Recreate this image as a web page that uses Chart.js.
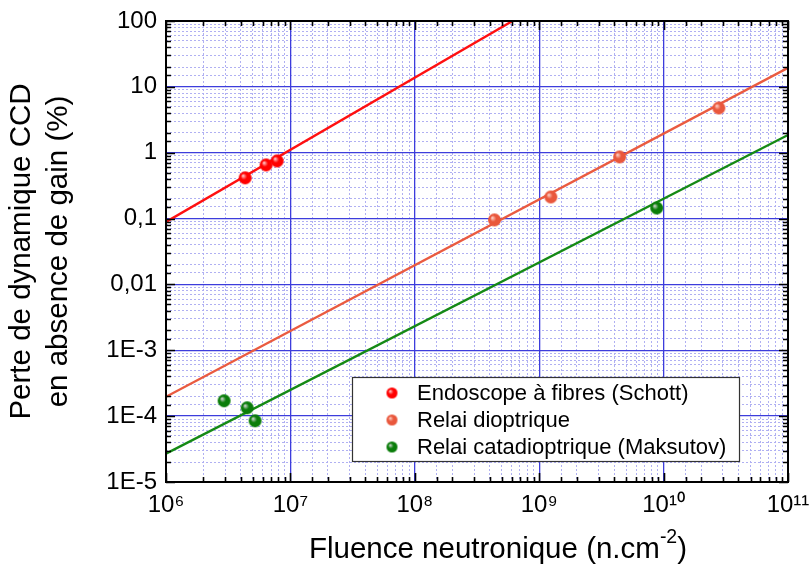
<!DOCTYPE html>
<html>
<head>
<meta charset="utf-8">
<script src="https://cdn.jsdelivr.net/npm/chart.js@4"></script>
<style>
  body { margin: 0; background: #fff; }
  #wrap { width: 810px; height: 567px; }
</style>
</head>
<body>
<div id="wrap"><canvas id="myChart" width="810" height="567"></canvas></div>
<script>
// measured points
const redX = [4.33e6, 6.38e6, 7.83e6]
const redY = [0.415, 0.653, 0.751]
const orangeX = [4.37e8, 1.24e9, 4.43e9, 2.78e10]
const orangeY = [0.0955, 0.213, 0.863, 4.78]
const greenX = [2.93e6, 4.49e6, 5.2e6, 8.8e9]
const greenY = [1.71e-4, 1.34e-4, 8.5e-5, 0.145]

// fitted lines (end points)
const redFitX = [1e6, 6.1e8]
const redFitY = [0.089, 100]
const orangeFitX = [1e6, 1e11]
const orangeFitY = [1.97e-4, 19.4]
const greenFitX = [1e6, 1e11]
const greenFitY = [2.69e-5, 1.86]

const seriesNames = ['Endoscope à fibres (Schott)', 'Relai dioptrique', 'Relai catadioptrique (Maksutov)']

const xTickValues = [1e6, 1e7, 1e8, 1e9, 1e10, 1e11]
const xTickLabels = ['10⁶', '10⁷', '10⁸', '10⁹', '10¹⁰', '10¹¹']
const yTickValues = [1e-5, 1e-4, 1e-3, 0.01, 0.1, 1, 10, 100]
const yTickLabels = ['1E-5', '1E-4', '1E-3', '0,01', '0,1', '1', '10', '100']

const xTitle = ['Fluence neutronique (n.cm', '-2', ')']
const yTitle = ['Perte de dynamique CCD', 'en absence de gain (%)']

const FONT = "'Liberation Sans', Arial, sans-serif"

function isDecade(v) {
  const l = Math.log10(v)
  return Math.abs(l - Math.round(l)) < 1e-6
}
function findLabel(v, values, labels) {
  for (let i = 0; i < values.length; i++) {
    if (Math.abs(Math.log10(v) - Math.log10(values[i])) < 1e-6) return labels[i]
  }
  return ''
}
function pts(xs, ys) {
  return xs.map(function (x, i) { return {x: x, y: ys[i]} })
}

// glossy ball markers
function makeBall(base, light, r) {
  const c = document.createElement('canvas')
  const s = Math.ceil(r * 2 + 2)
  c.width = s; c.height = s
  const g = c.getContext('2d')
  const cx = s / 2, cy = s / 2
  const grad = g.createRadialGradient(cx - r * 0.35, cy - r * 0.35, r * 0.05, cx, cy, r)
  grad.addColorStop(0, light)
  grad.addColorStop(0.45, base)
  grad.addColorStop(1, base)
  g.fillStyle = grad
  g.beginPath()
  g.arc(cx, cy, r, 0, Math.PI * 2)
  g.fill()
  return c
}

const colors = ['#ff0000', '#e9573c', '#0a7d0a']
const lights = ['#ffd0d0', '#ffd2c8', '#d8d8d8']
const lineColors = ['#ff1010', '#ea5b40', '#158a15']
const balls = colors.map(function (c, i) { return makeBall(c, lights[i], 6.5) })
const legendBalls = colors.map(function (c, i) { return makeBall(c, lights[i], 5.5) })

function pointSet(i, xs, ys) {
  return {
    label: seriesNames[i],
    data: pts(xs, ys),
    pointStyle: balls[i],
    pointRadius: 6,
    showLine: false,
    order: 0
  }
}
function fitSet(i, xs, ys) {
  return {
    label: 'fit' + i,
    data: pts(xs, ys),
    showLine: true,
    borderColor: lineColors[i],
    borderWidth: 2.4,
    pointRadius: 0,
    order: 1
  }
}

// frame, inward ticks, x title and legend box
const framePlugin = {
  id: 'frame',
  afterDraw(chart) {
    const ctx = chart.ctx
    const a = chart.chartArea
    const xs = chart.scales.x, ys = chart.scales.y
    ctx.save()
    ctx.strokeStyle = '#000'
    ctx.lineWidth = 1.6
    ctx.beginPath()
    xs.ticks.forEach(function (t) {
      const px = Math.round(xs.getPixelForValue(t.value)) + 0.5
      const len = isDecade(t.value) ? 9 : 5
      ctx.moveTo(px, a.bottom); ctx.lineTo(px, a.bottom - len)
      ctx.moveTo(px, a.top); ctx.lineTo(px, a.top + len)
    })
    ys.ticks.forEach(function (t) {
      const py = Math.round(ys.getPixelForValue(t.value)) + 0.5
      const len = isDecade(t.value) ? 9 : 5
      ctx.moveTo(a.left, py); ctx.lineTo(a.left + len, py)
      ctx.moveTo(a.right, py); ctx.lineTo(a.right - len, py)
    })
    ctx.stroke()
    ctx.lineWidth = 2
    ctx.strokeRect(a.left, a.top, a.right - a.left, a.bottom - a.top)

    // x axis title with a real superscript
    ctx.fillStyle = '#000'
    ctx.textAlign = 'left'
    ctx.textBaseline = 'alphabetic'
    const bigFont = '29.5px ' + FONT, supFont = '19.5px ' + FONT
    ctx.font = bigFont
    const w1 = ctx.measureText(xTitle[0]).width
    const w3 = ctx.measureText(xTitle[2]).width
    ctx.font = supFont
    const w2 = ctx.measureText(xTitle[1]).width
    let tx = 498 - (w1 + w2 + w3) / 2
    ctx.font = bigFont
    ctx.fillText(xTitle[0], tx, 558)
    tx += w1
    ctx.font = supFont
    ctx.fillText(xTitle[1], tx, 543)
    tx += w2
    ctx.font = bigFont
    ctx.fillText(xTitle[2], tx, 558)

    // legend
    const lx = 352, ly = 377, lw = 387, lh = 84
    ctx.fillStyle = '#fff'
    ctx.fillRect(lx, ly, lw, lh)
    ctx.strokeStyle = '#333'
    ctx.lineWidth = 1.2
    ctx.strokeRect(lx + 0.5, ly + 0.5, lw, lh)
    ctx.font = '22px ' + FONT
    ctx.fillStyle = '#000'
    ctx.textBaseline = 'middle'
    ctx.textAlign = 'left'
    seriesNames.forEach(function (name, i) {
      const y = ly + 16 + i * 27
      const b = legendBalls[i]
      ctx.drawImage(b, 392 - b.width / 2, y - b.height / 2)
      ctx.fillText(name, 417, y + 1)
    })
    ctx.restore()
  }
}

const ctx = document.getElementById('myChart').getContext('2d')
const myChart = new Chart(ctx, {
  type: 'scatter',
  data: {
    datasets: [
      pointSet(0, redX, redY),
      pointSet(1, orangeX, orangeY),
      pointSet(2, greenX, greenY),
      fitSet(0, redFitX, redFitY),
      fitSet(1, orangeFitX, orangeFitY),
      fitSet(2, greenFitX, greenFitY)
    ]
  },
  options: {
    responsive: false,
    animation: false,
    layout: {
      padding: {top: 21, right: 22, left: 0, bottom: 0}
    },
    plugins: {
      legend: {display: false},
      tooltip: {enabled: false}
    },
    scales: {
      x: {
        type: 'logarithmic',
        min: 1e6,
        max: 1e11,
        position: 'bottom',
        border: {display: false, dash: [2, 2]},
        grid: {
          drawTicks: false,
          lineWidth: 1,
          color: function (c) {
            return c.tick && isDecade(c.tick.value) ? 'rgba(0,0,0,0)' : '#b0b0f2'
          }
        },
        ticks: {
          autoSkip: false,
          maxRotation: 0,
          padding: 9,
          color: '#000',
          font: {family: FONT, size: 24},
          callback: function (v) { return findLabel(v, xTickValues, xTickLabels) }
        },
        title: {display: false},
        afterFit: function (s) {
          s.height = 85
          s.paddingLeft = 0
          s.paddingRight = 0
        }
      },
      y: {
        type: 'logarithmic',
        min: 1e-5,
        max: 100,
        position: 'left',
        border: {display: false, dash: [2, 2]},
        grid: {
          drawTicks: false,
          lineWidth: 1,
          color: function (c) {
            return c.tick && isDecade(c.tick.value) ? 'rgba(0,0,0,0)' : '#b0b0f2'
          }
        },
        ticks: {
          autoSkip: false,
          padding: 9,
          color: '#000',
          font: {family: FONT, size: 24},
          callback: function (v) { return findLabel(v, yTickValues, yTickLabels) }
        },
        title: {
          display: true,
          text: yTitle,
          color: '#000',
          font: {family: FONT, size: 29.5, lineHeight: 1.27},
          padding: {top: 3, bottom: 0}
        },
        afterFit: function (s) {
          s.width = 166
          s.paddingTop = 0
          s.paddingBottom = 0
        }
      },
      // second pair of axes only for the solid decade grid
      x2: {
        type: 'logarithmic',
        min: 1e6,
        max: 1e11,
        position: 'top',
        border: {display: false},
        grid: {drawTicks: false, color: '#3d3ddc', lineWidth: 1.3},
        ticks: {display: false},
        afterBuildTicks: function (s) {
          s.ticks = s.ticks.filter(function (t) { return isDecade(t.value) })
        },
        afterFit: function (s) { s.height = 0 }
      },
      y2: {
        type: 'logarithmic',
        min: 1e-5,
        max: 100,
        position: 'right',
        border: {display: false},
        grid: {drawTicks: false, color: '#3d3ddc', lineWidth: 1.3},
        ticks: {display: false},
        afterBuildTicks: function (s) {
          s.ticks = s.ticks.filter(function (t) { return isDecade(t.value) })
        },
        afterFit: function (s) { s.width = 0 }
      }
    }
  },
  plugins: [framePlugin]
})
</script>
</body>
</html>
